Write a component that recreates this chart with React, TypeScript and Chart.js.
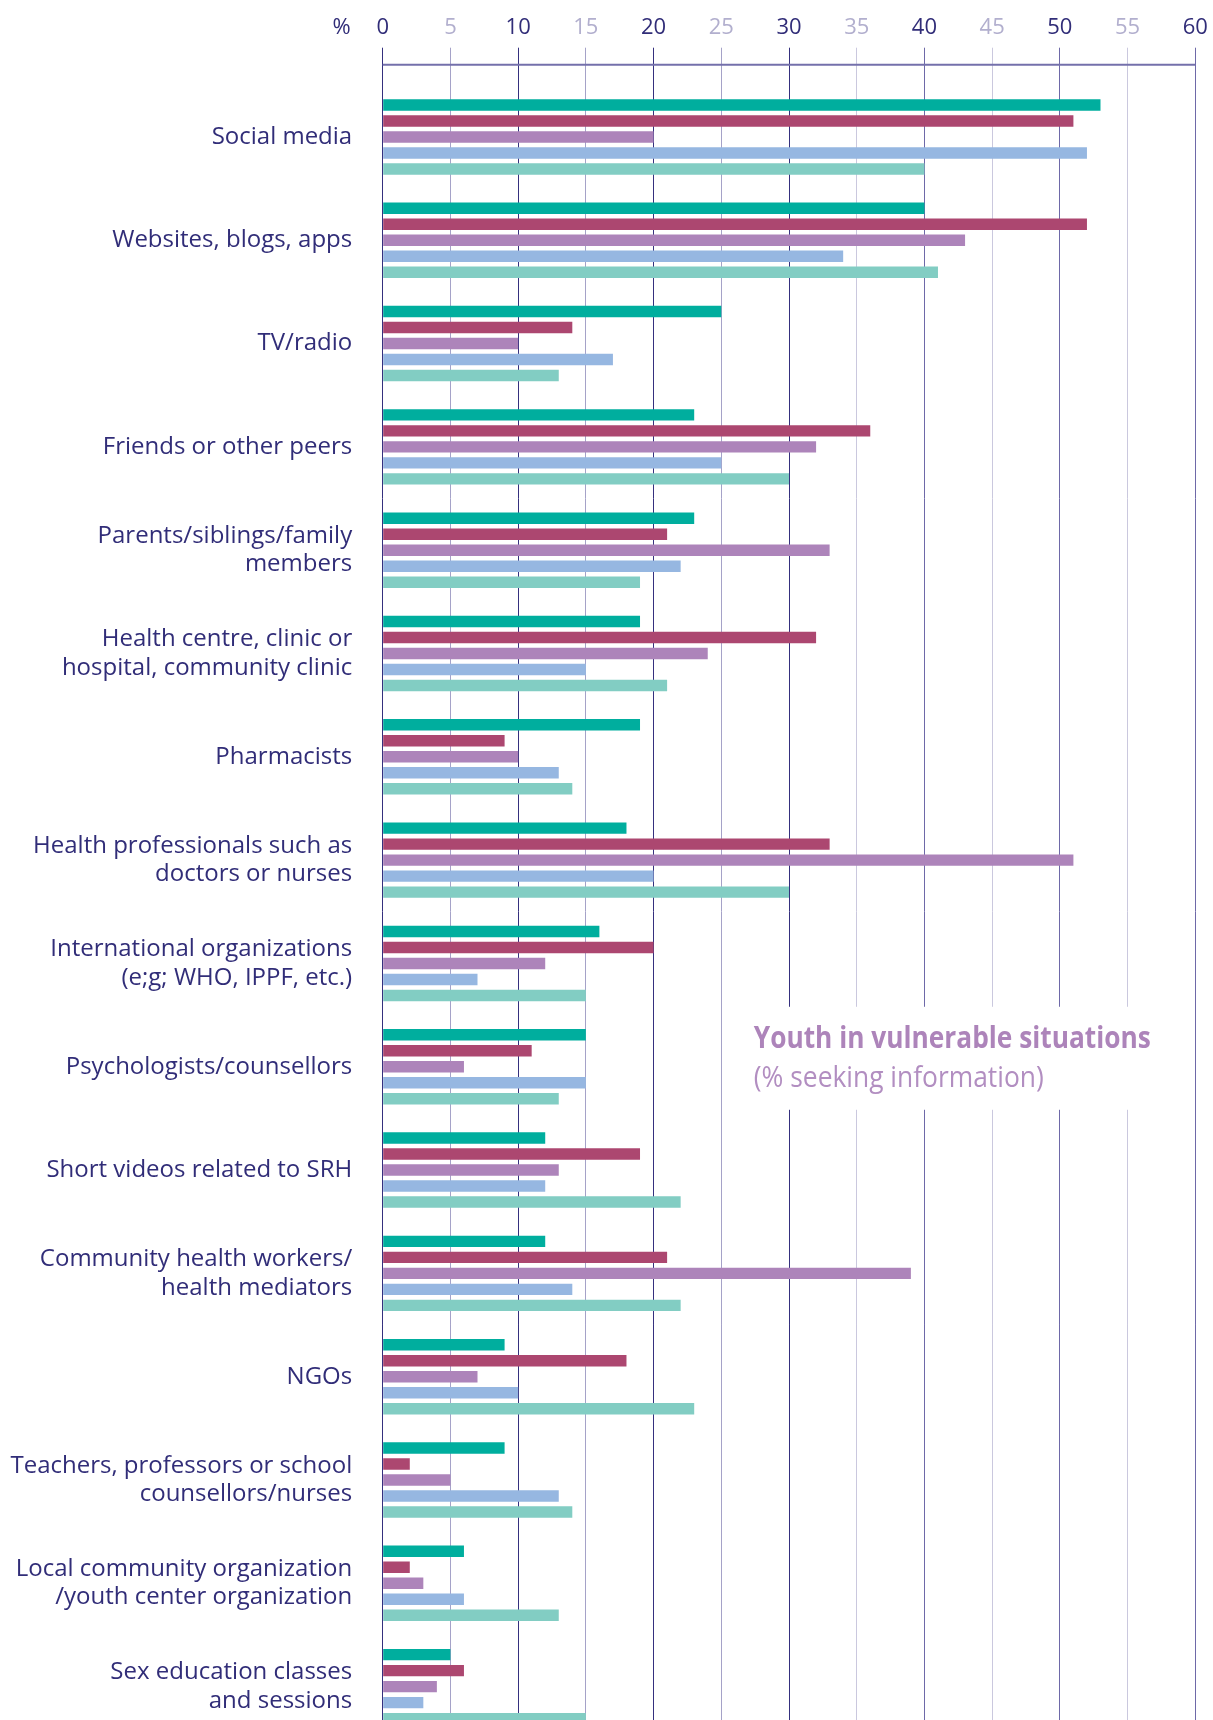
import React, { useEffect, useRef } from "react";
import { Chart, registerables } from "chart.js";

Chart.register(...registerables);

// ---------- data ----------
const categories: (string | string[])[] = [
  "Social media",
  "Websites, blogs, apps",
  "TV/radio",
  "Friends or other peers",
  ["Parents/siblings/family", "members"],
  ["Health centre, clinic or", "hospital, community clinic"],
  "Pharmacists",
  ["Health professionals such as", "doctors or nurses"],
  ["International organizations", "(e;g; WHO, IPPF, etc.)"],
  "Psychologists/counsellors",
  "Short videos related to SRH",
  ["Community health workers/", "health mediators"],
  "NGOs",
  ["Teachers, professors or school", "counsellors/nurses"],
  ["Local community organization", "/youth center organization"],
  ["Sex education classes", "and sessions"],
];

const seriesNames = ["Series 1", "Series 2", "Series 3", "Series 4", "Series 5"];
const series1 = [53, 40, 25, 23, 23, 19, 19, 18, 16, 15, 12, 12, 9, 9, 6, 5];
const series2 = [51, 52, 14, 36, 21, 32, 9, 33, 20, 11, 19, 21, 18, 2, 2, 6];
const series3 = [20, 43, 10, 32, 33, 24, 10, 51, 12, 6, 13, 39, 7, 5, 3, 4];
const series4 = [52, 34, 17, 25, 22, 15, 13, 20, 7, 15, 12, 14, 10, 13, 6, 3];
const series5 = [40, 41, 13, 30, 19, 21, 14, 30, 15, 13, 22, 22, 23, 14, 13, 15];
const seriesColors = ["#00ae9e", "#ac4770", "#ad84ba", "#96b7e1", "#82cdc3"];

const axisMin = 0;
const axisMax = 60;
const axisStep = 5;
const axisUnit = "%";
const noteTitle = "Youth in vulnerable situations";
const noteSub = "(% seeking information)";
const noteRow = 9;

const NAVY = "#312d78";
const LIGHT_TICK = "#b2afce";
const FONT = "'Open Sans', sans-serif";

function gridColor(v: number): string {
  if (v === 0 || v === 10 || v === 20 || v === 30) return "#35307e";
  if (v === 40 || v === 50 || v === 60) return "#6e69a8";
  if (v === 5 || v === 15 || v === 25) return "#a5a2c8";
  return "#cac8de";
}

const TICK_LEN = 37.6;
const TICK_PAD = 7;
const TICK_FONT = 22;
const TICK_LH = 1.2;

const decorPlugin = {
  id: "decor",
  beforeDatasetsDraw(chart: any) {
    const { ctx, chartArea, scales } = chart;
    const xs = scales.x;
    const ys = scales.y;
    ctx.save();
    // horizontal axis rule
    ctx.strokeStyle = "#7470ab";
    ctx.lineWidth = 2;
    ctx.beginPath();
    const ly = chartArea.top - 20.5;
    ctx.moveTo(xs.getPixelForValue(axisMin), ly);
    ctx.lineTo(xs.getPixelForValue(axisMax), ly);
    ctx.stroke();

    // unit label
    const tickY = chartArea.top - TICK_LEN - TICK_PAD - (TICK_FONT * TICK_LH) / 2;
    ctx.fillStyle = NAVY;
    ctx.font = `500 ${TICK_FONT}px ${FONT}`;
    ctx.textAlign = "center";
    ctx.textBaseline = "middle";
    ctx.fillText(axisUnit, xs.getPixelForValue(axisMin) - 41, tickY);

    // annotation box
    const yc = ys.getPixelForValue(noteRow);
    const bx0 = xs.getPixelForValue(25) + 1.5;
    const bx1 = xs.getPixelForValue(60) - 1.5;
    ctx.fillStyle = "#ffffff";
    ctx.fillRect(bx0, yc - 60, bx1 - bx0, 103);

    const tx = bx0 + 31;
    ctx.textAlign = "left";
    ctx.textBaseline = "alphabetic";
    ctx.fillStyle = "#ad84ba";
    ctx.font = `bold 30px ${FONT}`;
    let w = ctx.measureText(noteTitle).width;
    ctx.save();
    ctx.translate(tx, yc - 18.5);
    ctx.scale(397 / w, 1);
    ctx.fillText(noteTitle, 0, 0);
    ctx.restore();

    ctx.fillStyle = "#b28ec1";
    ctx.font = `30px ${FONT}`;
    w = ctx.measureText(noteSub).width;
    ctx.save();
    ctx.translate(tx, yc + 20);
    ctx.scale(290 / w, 1);
    ctx.fillText(noteSub, 0, 0);
    ctx.restore();

    ctx.restore();
  },
};

export default function App() {
  const canvasRef = useRef<HTMLCanvasElement | null>(null);

  useEffect(() => {
    document.body.style.margin = "0";
    document.documentElement.style.overflow = "hidden";
    const canvas = canvasRef.current;
    if (!canvas) return;
    const all = [series1, series2, series3, series4, series5];
    const chart = new Chart(canvas, {
      type: "bar",
      data: {
        labels: categories,
        datasets: all.map((d, i) => ({
          label: seriesNames[i],
          data: d,
          backgroundColor: seriesColors[i],
          borderWidth: 0,
          categoryPercentage: 0.7745,
          barPercentage: 0.715,
        })),
      },
      options: {
        indexAxis: "y",
        responsive: false,
        animation: false,
        devicePixelRatio: 1,
        layout: { padding: { left: 0, top: 0, right: 17.7, bottom: 1.7 } },
        plugins: {
          legend: { display: false },
          tooltip: { enabled: false },
          title: { display: false },
        },
        scales: {
          x: {
            position: "top",
            min: axisMin,
            max: axisMax,
            afterFit: (s: any) => {
              s.height = 85.3;
              s.paddingLeft = 0;
              s.paddingRight = 0;
            },
            ticks: {
              stepSize: axisStep,
              autoSkip: false,
              maxRotation: 0,
              padding: TICK_PAD,
              color: (c: any) => (c.tick && c.tick.value % 10 === 0 ? NAVY : LIGHT_TICK),
              font: { family: FONT, size: TICK_FONT, lineHeight: TICK_LH, weight: "500" },
            },
            grid: {
              drawTicks: true,
              tickLength: TICK_LEN,
              lineWidth: 1,
              color: (c: any) => gridColor(c.tick ? c.tick.value : 0),
            },
            border: { display: false },
          },
          y: {
            afterFit: (s: any) => {
              s.width = 382.7;
              s.paddingTop = 0;
              s.paddingBottom = 0;
            },
            ticks: {
              autoSkip: false,
              padding: 30.5,
              color: NAVY,
              font: { family: FONT, size: 24, lineHeight: 1.19, weight: "500" },
            },
            grid: { display: false, drawTicks: false },
            border: { display: false },
          },
        },
      },
      plugins: [decorPlugin],
    });
    return () => chart.destroy();
  }, []);

  return (
    <div style={{ width: 1213, height: 1720, overflow: "hidden", background: "#ffffff" }}>
      <canvas ref={canvasRef} width={1213} height={1740} style={{ display: "block" }} />
    </div>
  );
}
